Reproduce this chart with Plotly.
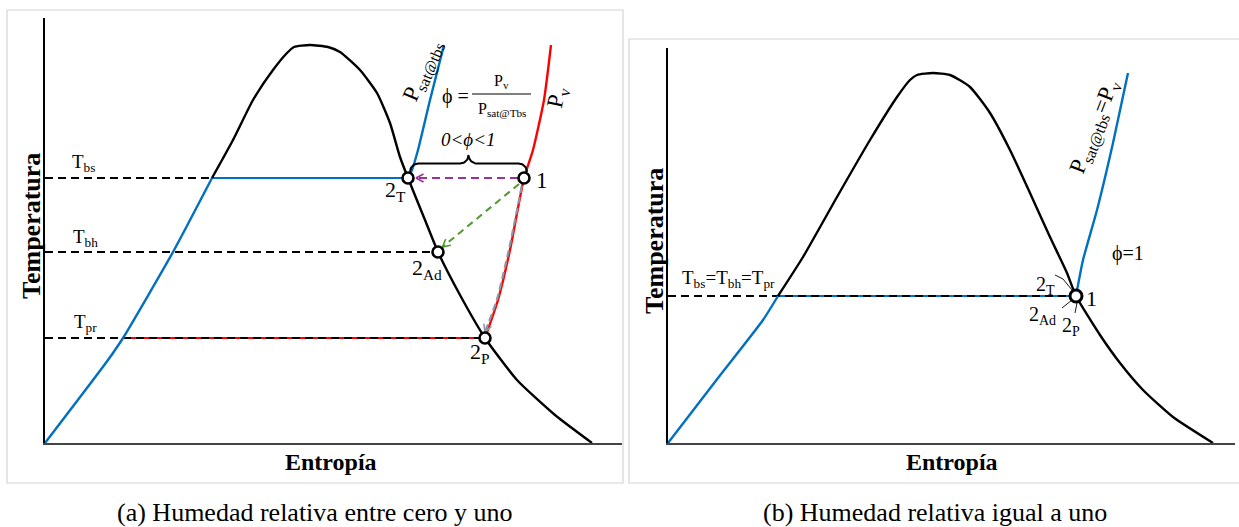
import numpy as np
import plotly.graph_objects as go

W, H = 1239, 527
SERIF = "Liberation Serif"
BLUE = "#0070C0"
RED = "#FF0000"
PURPLE = "#993399"
GREEN = "#4E9A2A"
GRAY = "#8A99A8"

# ---------------- Panel (a): 0 < phi < 1 ----------------
# saturated-liquid branch (below T_bs)
a_liq_s = [0.00, 0.63, 0.78, 1.28, 1.67]
a_liq_T = [0.00, 0.83, 1.05, 1.91, 2.65]
# rest of the saturation dome
a_dome_s = [1.67, 1.88, 2.08, 2.28, 2.42, 2.49, 2.65, 2.83, 2.95, 3.15, 3.32, 3.45,
            3.55, 3.63, 3.80, 3.93, 4.15, 4.40, 4.72, 5.10, 5.47]
a_dome_T = [2.65, 3.03, 3.43, 3.73, 3.90, 3.96, 3.98, 3.96, 3.91, 3.73, 3.50, 3.20,
            2.86, 2.65, 2.23, 1.91, 1.48, 1.05, 0.63, 0.28, 0.00]
# isobar P_sat@tbs
a_psat_s = [3.63, 3.67, 3.73, 3.85, 3.99]
a_psat_T = [2.65, 2.73, 2.93, 3.43, 3.98]
# isobar P_v
a_pv_s = [5.06, 4.99, 4.88, 4.79, 4.65, 4.53, 4.40]
a_pv_T = [3.98, 3.43, 2.93, 2.65, 1.93, 1.43, 1.05]
# state points
a_pt_names = ["1", "2T", "2Ad", "2P"]
a_pt_s = [4.79, 3.63, 3.93, 4.40]
a_pt_T = [2.65, 2.65, 1.91, 1.05]
T_bs, T_bh, T_pr = 2.65, 1.91, 1.05
a_xmax, a_ymax = 5.77, 4.25

# ---------------- Panel (b): phi = 1 ----------------
b_liq_s = [0.00, 0.50, 0.95, 1.10]
b_liq_T = [0.00, 0.65, 1.23, 1.47]
b_dome_s = [1.10, 1.35, 1.69, 2.02, 2.29, 2.42, 2.49, 2.65, 2.82, 3.02, 3.22, 3.42,
            3.62, 3.82, 3.99, 4.08, 4.32, 4.52, 4.75, 5.05, 5.45]
b_dome_T = [1.47, 1.86, 2.46, 3.03, 3.46, 3.63, 3.68, 3.70, 3.68, 3.56, 3.30, 2.93,
            2.50, 2.06, 1.70, 1.47, 1.08, 0.80, 0.53, 0.26, 0.00]
b_psat_s = [4.08, 4.15, 4.29, 4.45, 4.60]
b_psat_T = [1.47, 1.83, 2.33, 3.00, 3.70]
b_pt_s, b_pt_T = 4.08, 1.47
b_xmax, b_ymax = 5.67, 3.95

fig = go.Figure()


def line(xs, ys, color, width=2.2, dash=None, ax=1, shape="spline", smoothing=0.55):
    fig.add_trace(go.Scatter(
        x=xs, y=ys, mode="lines", hoverinfo="skip", showlegend=False,
        line=dict(color=color, width=width, dash=dash, shape=shape,
                  smoothing=smoothing if shape == "spline" else None),
        xaxis="x" if ax == 1 else "x2", yaxis="y" if ax == 1 else "y2"))


def arrow_head(x0, y0, x1, y1, color, ax=1, size=0.085):
    """Open V head at (x1, y1) for a path arriving from (x0, y0)."""
    d = np.array([x1 - x0, y1 - y0], dtype=float)
    d /= np.linalg.norm(d)
    out_x, out_y = [], []
    for ang in (np.radians(28), -np.radians(28)):
        c, s = np.cos(ang), np.sin(ang)
        back = -np.array([c * d[0] - s * d[1], s * d[0] + c * d[1]])
        out_x += [x1 + size * back[0], x1, None]
        out_y += [y1 + size * back[1], y1, None]
    line(out_x, out_y, color, width=1.6, ax=ax, shape="linear")


def brace(xa, xb, y0, r=0.085):
    """Horizontal curly brace, tip pointing up, spanning xa..xb from base y0."""
    xm = 0.5 * (xa + xb)
    t = np.linspace(0, np.pi / 2, 12)
    xs = list(xa + r - r * np.cos(t)) + list(xm - r + r * np.sin(t)) \
        + list(xm + r - r * np.cos(t)) + list(xb - r + r * np.sin(t))
    ys = list(y0 + r * np.sin(t)) + list(y0 + 2 * r - r * np.cos(t)) \
        + list(y0 + 2 * r - r * np.sin(t)) + list(y0 + r * np.cos(t))
    return xs, ys


# ---- panel (a) curves ----
line([0, a_liq_s[-1]], [T_bs, T_bs], "black", 2, dash="8px,5px", shape="linear")
line([0, a_pt_s[2]], [T_bh, T_bh], "black", 2, dash="8px,5px", shape="linear")
line([a_liq_s[2], a_pt_s[3]], [T_pr, T_pr], RED, 2.2, shape="linear")
line([0, a_pt_s[3]], [T_pr, T_pr], "black", 2, dash="8px,5px", shape="linear")
line([a_liq_s[-1], a_pt_s[1]], [T_bs, T_bs], BLUE, 2.2, shape="linear")
line(a_liq_s, a_liq_T, BLUE, 2.4)
line(a_dome_s, a_dome_T, "black", 2.4)
line(a_psat_s, a_psat_T, BLUE, 2.4)
line(a_pv_s, a_pv_T, RED, 2.4)

# process paths from state 1
p1s, p1T = a_pt_s[0], a_pt_T[0]
line([p1s - 0.06, a_pt_s[1] + 0.08], [p1T, p1T], PURPLE, 2, dash="8px,5px", shape="linear")
arrow_head(p1s, p1T, a_pt_s[1] + 0.08, p1T, PURPLE)
g_end = (a_pt_s[2] + 0.045, a_pt_T[2] + 0.05)
line([p1s - 0.05, g_end[0]], [p1T - 0.06, g_end[1]], GREEN, 2, dash="7px,5px", shape="linear")
arrow_head(p1s, p1T, g_end[0], g_end[1], GREEN)
gray_s = [s - 0.012 for s in a_pv_s[3:]]
gray_T = list(a_pv_T[3:])
gray_s[0], gray_T[0] = gray_s[0] - 0.01, gray_T[0] - 0.08
gray_s[-1], gray_T[-1] = gray_s[-1] + 0.012, gray_T[-1] + 0.06
line(gray_s, gray_T, GRAY, 2.2, dash="7px,4px")
arrow_head(gray_s[-2], gray_T[-2], gray_s[-1], gray_T[-1], GRAY)

# brace between the two isobars at T_bs
bx, by = brace(a_pt_s[1] + 0.02, p1s + 0.03, T_bs + 0.06)
line(bx, by, "black", 2, shape="linear")

fig.add_trace(go.Scatter(
    x=a_pt_s, y=a_pt_T, mode="markers", hoverinfo="skip", showlegend=False,
    marker=dict(size=11, color="white", line=dict(color="black", width=2.6)),
    xaxis="x", yaxis="y"))

# ---- panel (b) curves ----
line([b_liq_s[-1], b_pt_s], [b_pt_T, b_pt_T], BLUE, 2.2, ax=2, shape="linear")
line([0, b_pt_s], [b_pt_T, b_pt_T], "black", 2, dash="8px,5px", ax=2, shape="linear")
line(b_liq_s, b_liq_T, BLUE, 2.4, ax=2)
line(b_dome_s, b_dome_T, "black", 2.4, ax=2)
line(b_psat_s, b_psat_T, BLUE, 2.4, ax=2)
# short leaders from the coincident state labels
line([3.87, 3.95, 4.04, None, 3.94, 4.04, None, 4.07, 4.09],
     [1.68, 1.64, 1.53, None, 1.35, 1.43, None, 1.30, 1.40],
     "black", 0.9, ax=2, shape="linear")
fig.add_trace(go.Scatter(
    x=[b_pt_s], y=[b_pt_T], mode="markers", hoverinfo="skip", showlegend=False,
    marker=dict(size=12, color="white", line=dict(color="black", width=3)),
    xaxis="x2", yaxis="y2"))

# ---------------- text ----------------
ann = []


def txt(x, y, t, size=18, ax=1, angle=0, bold=False, italic=False, xanchor="center"):
    if bold:
        t = f"<b>{t}</b>"
    if italic:
        t = f"<i>{t}</i>"
    ann.append(dict(x=x, y=y, text=t, showarrow=False, textangle=angle,
                    xanchor=xanchor, yanchor="middle",
                    xref="x" if ax == 1 else "x2", yref="y" if ax == 1 else "y2",
                    font=dict(family=SERIF, size=size, color="black")))


txt(0.38, 2.80, "T<sub>bs</sub>", 19)
txt(0.40, 2.05, "T<sub>bh</sub>", 19)
txt(0.40, 1.20, "T<sub>pr</sub>", 19)
txt(3.50, 2.52, "2<sub>T</sub>", 22)
txt(3.82, 1.74, "2<sub>Ad</sub>", 22)
txt(4.35, 0.90, "2<sub>P</sub>", 22)
txt(4.97, 2.63, "1", 23)
txt(3.78, 3.72, "P<sub>sat@tbs</sub>", 23, angle=-67)
txt(5.13, 3.46, "P<sub>v</sub>", 23, angle=-78)
txt(4.10, 3.47, "ϕ =", 20)
txt(4.565, 3.62, "P<sub>v</sub>", 16)
txt(4.565, 3.34, "P<sub>sat@Tbs</sub>", 16)
txt(4.23, 3.04, "0<ϕ<1", 19, italic=True)
line([4.27, 4.86], [3.49, 3.49], "black", 1.2, shape="linear")

txt(0.60, 1.64, "T<sub>bs</sub>=T<sub>bh</sub>=T<sub>pr</sub>", 19, ax=2)
txt(3.77, 1.58, "2<sub>T</sub>", 20, ax=2)
txt(3.74, 1.28, "2<sub>Ad</sub>", 20, ax=2)
txt(4.03, 1.17, "2<sub>P</sub>", 20, ax=2)
txt(4.23, 1.45, "1", 22, ax=2)
txt(4.60, 1.90, "ϕ=1", 20, ax=2)
txt(4.27, 3.16, "P<sub>sat@tbs</sub>=P<sub>v</sub>", 23, ax=2, angle=-69)


def ptxt(px, py, t, size, angle=0):
    ann.append(dict(x=px / W, y=1 - py / H, text=t, showarrow=False, textangle=angle,
                    xref="paper", yref="paper", xanchor="center", yanchor="middle",
                    font=dict(family=SERIF, size=size, color="black")))


ptxt(31, 226, "<b>Temperatura</b>", 26, angle=-90)
ptxt(331, 462, "<b>Entropía</b>", 24)
ptxt(655, 241, "<b>Temperatura</b>", 26, angle=-90)
ptxt(952, 462, "<b>Entropía</b>", 24)
ptxt(315, 512, "(a) Humedad relativa entre cero y uno", 26)
ptxt(935, 512, "(b) Humedad relativa igual a uno", 26)

# panel frames
shapes = [
    dict(type="rect", xref="paper", yref="paper", x0=7 / W, x1=623 / W,
         y0=1 - 483 / H, y1=1 - 10 / H, line=dict(color="#d4d4d4", width=1.2)),
    dict(type="rect", xref="paper", yref="paper", x0=629 / W, x1=1245 / W,
         y0=1 - 483 / H, y1=1 - 39 / H, line=dict(color="#d4d4d4", width=1.2)),
]

axis_common = dict(showgrid=False, zeroline=False, showticklabels=False, ticks="",
                   showline=True, linewidth=1.6, fixedrange=True)
fig.update_layout(
    width=W, height=H, margin=dict(l=0, r=0, t=0, b=0),
    paper_bgcolor="white", plot_bgcolor="rgba(0,0,0,0)",
    xaxis=dict(domain=[45 / W, 622 / W], range=[0, a_xmax], anchor="y",
               linecolor="#444444", **axis_common),
    yaxis=dict(domain=[1 - 443 / H, 1 - 18 / H], range=[0, a_ymax], anchor="x",
               linecolor="black", **axis_common),
    xaxis2=dict(domain=[668 / W, 1235 / W], range=[0, b_xmax], anchor="y2",
                linecolor="#444444", **axis_common),
    yaxis2=dict(domain=[1 - 443 / H, 1 - 48 / H], range=[0, b_ymax], anchor="x2",
                linecolor="black", **axis_common),
    annotations=ann, shapes=shapes,
)

fig.write_html("out.html")
